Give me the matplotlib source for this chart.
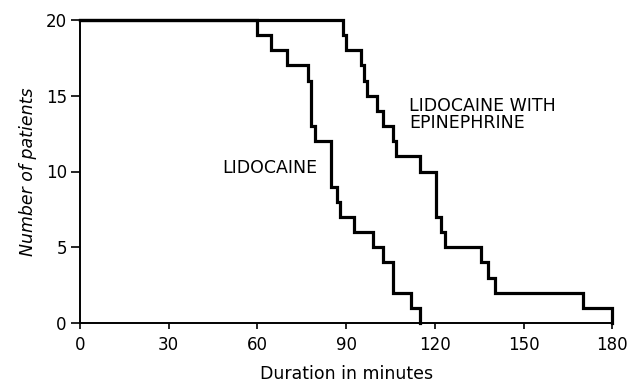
import matplotlib
matplotlib.use("Agg")
from matplotlib import pyplot as plt

# Lidocaine alone: time (min) at which the count of patients drops
lido_times = [0, 60, 64.5, 70, 77, 78, 79.5, 85, 87, 88, 92.5, 99, 102.5, 106, 112, 115]
lido_counts = [20, 19, 18, 17, 16, 13, 12, 9, 8, 7, 6, 5, 4, 2, 1, 0]

# Lidocaine with epinephrine
epi_times = [0, 89, 90, 95, 96, 97, 100.5, 102.5, 105.7, 106.8, 115, 120.5, 122, 123.5,
             135.5, 138, 140.5, 170, 180]
epi_counts = [20, 19, 18, 17, 16, 15, 14, 13, 12, 11, 10, 7, 6, 5, 4, 3, 2, 1, 0]

x_ticks = [0, 30, 60, 90, 120, 150, 180]
y_ticks = [0, 5, 10, 15, 20]

plt.rcParams['font.family'] = ['DejaVu Sans']

fig = plt.figure(figsize=(6.31, 3.86), dpi=100)
ax = fig.add_axes([80 / 631, 1 - 323 / 386, (612.3 - 80) / 631, (323 - 20) / 386])

ax.step(lido_times, lido_counts, where='post', color='black', lw=2.3, clip_on=False,
        solid_joinstyle='miter')
ax.step(epi_times, epi_counts, where='post', color='black', lw=2.3, clip_on=False,
        solid_joinstyle='miter')

ax.set_xlim(0, 180)
ax.set_ylim(0, 20)
ax.set_xticks(x_ticks)
ax.set_yticks(y_ticks)

ax.spines['right'].set_visible(False)
ax.spines['top'].set_visible(False)
ax.spines['left'].set_linewidth(1.4)
ax.spines['bottom'].set_linewidth(1.4)
ax.tick_params(axis='x', direction='out', length=4.5, width=1.2, pad=5, labelsize=12)
ax.tick_params(axis='y', direction='out', length=6.5, width=1.2, pad=3, labelsize=12)

ax.set_xlabel('Duration in minutes', fontsize=12.5, labelpad=8)
ax.set_ylabel('Number of patients', fontsize=12.5, style='italic', labelpad=6)

ax.text(48, 10.2, 'LIDOCAINE', fontsize=12.5, va='center', ha='left')
ax.text(111.3, 13.75, 'LIDOCAINE WITH\nEPINEPHRINE', fontsize=12.5, va='center', ha='left',
        linespacing=0.95)

fig.savefig('out.png', dpi=100)
